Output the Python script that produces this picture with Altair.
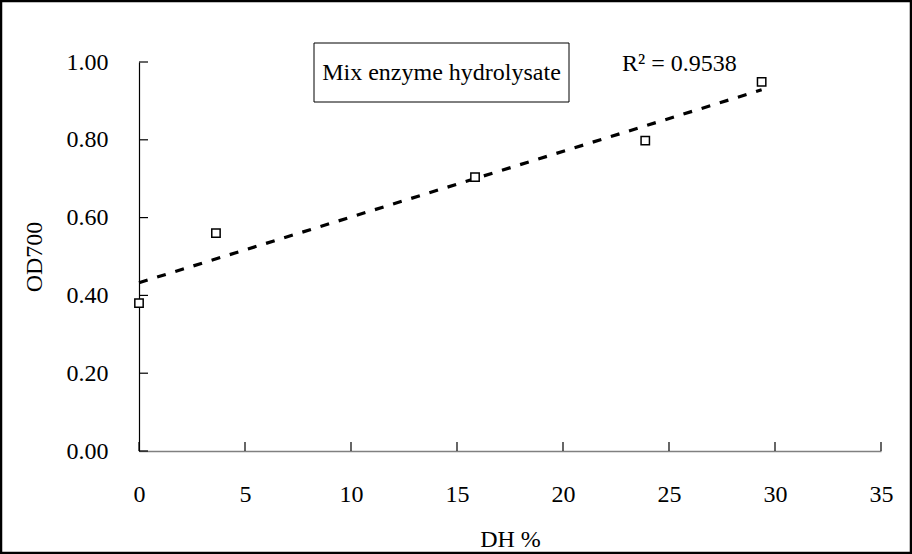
import altair as alt
import pandas as pd

# Degree of hydrolysis (%) and reducing power (OD700) of the mixed-enzyme hydrolysate
dh = [0.0, 3.63, 15.85, 23.88, 29.37]
od700 = [0.380, 0.560, 0.704, 0.798, 0.949]

x_ticks = [0, 5, 10, 15, 20, 25, 30, 35]
y_ticks = [0.0, 0.2, 0.4, 0.6, 0.8, 1.0]

box_label = ["Mix enzyme hydrolysate"]
r2_label = ["R\u00b2 = 0.9538"]

FONT = "Liberation Serif, Times New Roman, serif"
FS = 24
W, H = 742, 389

df = pd.DataFrame({"DH": dh, "OD": od700})

x_scale = alt.Scale(domain=[0, 35], nice=False, zero=False)
y_scale = alt.Scale(domain=[0, 1], nice=False)

x_axis = alt.Axis(
    values=x_ticks, format="d", ticks=False, grid=False,
    domainColor="#808080", domainWidth=1.5,
    labelFont=FONT, labelFontSize=FS, labelColor="black", labelPadding=31,
    labelFlush=False, labelOverlap=False,
    title="DH %", titleFont=FONT, titleFontSize=FS, titleFontWeight="normal",
    titleColor="black", titleBaseline="top", titleY=76,
)
y_axis = alt.Axis(
    values=y_ticks, format=".2f", ticks=False, grid=False,
    domainColor="black", domainWidth=1.2,
    labelFont=FONT, labelFontSize=FS, labelColor="black", labelPadding=31,
    labelFlush=False, labelOverlap=False,
    title="OD700", titleFont=FONT, titleFontSize=FS, titleFontWeight="normal",
    titleColor="black", titleAngle=-90, titleAlign="center",
    titleBaseline="middle", titleX=-105, titleY=H / 2,
)

base = alt.Chart(df)

# linear trendline fitted over the measured range
trend = base.transform_regression(
    "DH", "OD", method="linear", extent=[0, 29.37]
).mark_line(color="black", strokeWidth=3.2, strokeDash=[9, 10]).encode(
    x=alt.X("DH:Q", scale=x_scale, axis=x_axis),
    y=alt.Y("OD:Q", scale=y_scale, axis=y_axis),
)

points = base.mark_point(
    shape="square", size=70, filled=True, fill="white",
    stroke="black", strokeWidth=1.5, opacity=1,
).encode(
    x=alt.X("DH:Q", scale=x_scale),
    y=alt.Y("OD:Q", scale=y_scale),
)

# tick marks pointing into the plot
x_tick_marks = alt.Chart(pd.DataFrame({"t": x_ticks})).mark_rule(
    color="black", strokeWidth=1.2
).encode(
    x=alt.X("t:Q", scale=x_scale),
    y=alt.value(H - 9), y2=alt.value(H),
)
y_tick_marks = alt.Chart(pd.DataFrame({"t": y_ticks})).mark_rule(
    color="black", strokeWidth=1.2
).encode(
    y=alt.Y("t:Q", scale=y_scale),
    x=alt.value(0), x2=alt.value(9),
)

# legend-style text box
box = alt.Chart(pd.DataFrame({"label": box_label})).mark_rect(
    fill="white", stroke="black", strokeWidth=1
).encode(
    x=alt.value(175), x2=alt.value(430), y=alt.value(-19), y2=alt.value(40),
)
box_text = alt.Chart(pd.DataFrame({"label": box_label})).mark_text(
    font=FONT, fontSize=FS, color="black", align="center", baseline="middle"
).encode(
    text="label:N", x=alt.value(302.5), y=alt.value(11),
)

r2_text = alt.Chart(pd.DataFrame({"label": r2_label})).mark_text(
    font=FONT, fontSize=FS, color="black", align="left", baseline="middle"
).encode(
    text="label:N", x=alt.value(483), y=alt.value(2),
)

# frame around the whole figure
frame = alt.Chart(pd.DataFrame({"a": [0]})).mark_rect(
    fill="white", fillOpacity=0, stroke="black", strokeWidth=2.5
).encode(
    x=alt.value(-138), x2=alt.value(W + 30),
    y=alt.value(-61), y2=alt.value(H + 102),
)

chart = alt.layer(
    trend, points, x_tick_marks, y_tick_marks, box, box_text, r2_text, frame
).properties(
    width=W, height=H,
    autosize=alt.AutoSizeParams(type="none"),
    padding={"left": 139, "top": 62, "right": 31, "bottom": 103},
    background="white",
).configure_view(stroke=None)

chart.save("out.html", embed_options={"renderer": "svg", "actions": False})
